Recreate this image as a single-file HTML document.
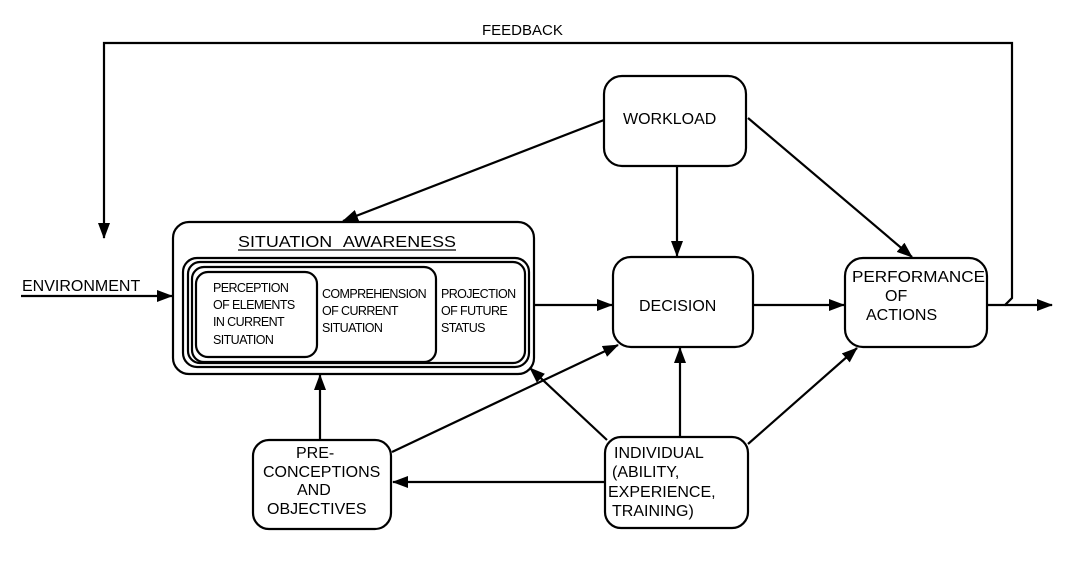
<!DOCTYPE html>
<html><head><meta charset="utf-8"><style>
html,body{margin:0;padding:0;background:#fff;}
svg{display:block;}
text{font-family:"Liberation Sans",Arial,sans-serif;fill:#000;}
</style></head><body>
<svg width="1080" height="561" viewBox="0 0 1080 561" xmlns="http://www.w3.org/2000/svg">
<defs>
<marker id="b" markerWidth="16" markerHeight="12" refX="15" refY="6" orient="auto" markerUnits="userSpaceOnUse">
<path d="M0,0 L16,6 L0,12 z" fill="#000"/>
</marker>
</defs>
<g fill="none" stroke="#000" stroke-width="2.2">
<rect x="604" y="76" width="142" height="90" rx="18"/>
<rect x="613" y="257" width="140" height="90" rx="18"/>
<rect x="845" y="258" width="142" height="89" rx="18"/>
<rect x="253" y="440" width="138" height="89" rx="16"/>
<rect x="605" y="437" width="143" height="91" rx="16"/>
<rect x="173" y="222" width="361" height="152" rx="16"/>
<rect x="183" y="258" width="346" height="109" rx="14"/>
<rect x="188" y="262" width="337" height="101" rx="12"/>
<rect x="192" y="267" width="244" height="95" rx="12"/>
<rect x="196" y="272" width="121" height="85" rx="12"/>
<polyline points="987,305 1005,305 1012,298 1012,43 104,43 104,238" marker-end="url(#b)"/>
<line x1="1005" y1="305" x2="1052" y2="305" marker-end="url(#b)"/>
<line x1="21" y1="296" x2="172" y2="296" marker-end="url(#b)"/>
<line x1="534" y1="305" x2="612" y2="305" marker-end="url(#b)"/>
<line x1="753" y1="305" x2="844" y2="305" marker-end="url(#b)"/>
<line x1="604" y1="120" x2="343" y2="221" marker-end="url(#b)"/>
<line x1="677" y1="166" x2="677" y2="256" marker-end="url(#b)"/>
<line x1="748" y1="118" x2="912" y2="257" marker-end="url(#b)"/>
<line x1="320" y1="440" x2="320" y2="375" marker-end="url(#b)"/>
<line x1="392" y1="452" x2="618" y2="345" marker-end="url(#b)"/>
<line x1="607" y1="440" x2="530" y2="368" marker-end="url(#b)"/>
<line x1="680" y1="437" x2="680" y2="348" marker-end="url(#b)"/>
<line x1="748" y1="444" x2="857" y2="348" marker-end="url(#b)"/>
<line x1="605" y1="482" x2="393" y2="482" marker-end="url(#b)"/>
</g>
<text x="482" y="35" font-size="15">FEEDBACK</text>
<text x="22" y="291" font-size="16">ENVIRONMENT</text>
<text x="238" y="247" font-size="16" word-spacing="6" textLength="218" lengthAdjust="spacingAndGlyphs">SITUATION AWARENESS</text>
<line x1="238" y1="250" x2="456" y2="250" stroke="#000" stroke-width="1.3"/>
<g font-size="12.5" letter-spacing="-0.6">
<text x="213" y="292">PERCEPTION</text>
<text x="213" y="309">OF ELEMENTS</text>
<text x="213" y="326">IN CURRENT</text>
<text x="213" y="344">SITUATION</text>
<text x="322" y="298">COMPREHENSION</text>
<text x="322" y="315">OF CURRENT</text>
<text x="322" y="332">SITUATION</text>
<text x="441" y="298">PROJECTION</text>
<text x="441" y="315">OF FUTURE</text>
<text x="441" y="332">STATUS</text>
</g>
<g font-size="16">
<text x="623" y="124">WORKLOAD</text>
<text x="639" y="311">DECISION</text>
<text x="852" y="282" textLength="133" lengthAdjust="spacingAndGlyphs">PERFORMANCE</text>
<text x="885" y="301">OF</text>
<text x="866" y="320">ACTIONS</text>
<text x="296" y="458">PRE-</text>
<text x="263" y="477">CONCEPTIONS</text>
<text x="297" y="495">AND</text>
<text x="267" y="514">OBJECTIVES</text>
<text x="614" y="458">INDIVIDUAL</text>
<text x="612" y="477">(ABILITY,</text>
<text x="608" y="497">EXPERIENCE,</text>
<text x="612" y="516">TRAINING)</text>
</g>
</svg>
</body></html>
